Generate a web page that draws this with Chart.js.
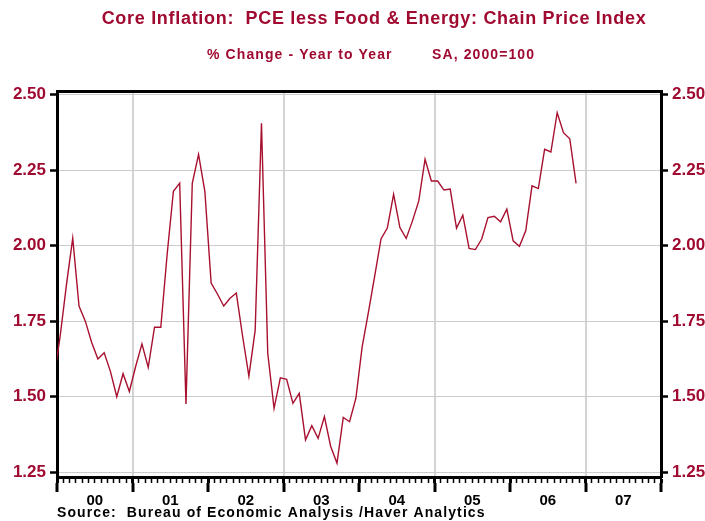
<!DOCTYPE html>
<html>
<head>
<meta charset="utf-8">
<script src="https://cdn.jsdelivr.net/npm/chart.js@4.4.1/dist/chart.umd.min.js"></script>
<style>
  body { margin: 0; background: #fff; }
</style>
</head>
<body>
<canvas id="pceChart" width="705" height="521"></canvas>
<script>
const titleText = 'Core Inflation:  PCE less Food & Energy: Chain Price Index';
const subtitleLeft = '% Change - Year to Year';
const subtitleRight = 'SA, 2000=100';
const sourceText = 'Source:  Bureau of Economic Analysis /Haver Analytics';

// monthly series, first value is Dec 1999, last is Nov 2006
const firstMonth = '1999-12';
const corePce = [
    1.56,
    1.70, 1.87, 2.025, 1.80, 1.75, 1.68, 1.625, 1.645, 1.583, 1.50, 1.576, 1.517,
    1.60, 1.675, 1.597, 1.73, 1.73, 1.97, 2.18, 2.207, 1.476, 2.206, 2.302, 2.18,
    1.876, 1.84, 1.80, 1.826, 1.843, 1.70, 1.568, 1.72, 2.405, 1.643, 1.461, 1.562,
    1.557, 1.478, 1.511, 1.357, 1.404, 1.362, 1.434, 1.335, 1.28, 1.431, 1.417, 1.494,
    1.665, 1.78, 1.90, 2.022, 2.058, 2.170, 2.06, 2.024, 2.082, 2.148, 2.286, 2.214,
    2.214, 2.184, 2.187, 2.058, 2.101, 1.991, 1.987, 2.022, 2.093, 2.097, 2.079, 2.121,
    2.016, 1.998, 2.049, 2.198, 2.189, 2.319, 2.31, 2.44, 2.374, 2.354, 2.206
];
const yTicks = [1.25, 1.50, 1.75, 2.00, 2.25, 2.50];
const yearLabels = ['00', '01', '02', '03', '04', '05', '06', '07'];
const gridYears = ['01', '03', '05', '07'];

const red = '#a00a30';
const font = '"Liberation Sans", Arial, sans-serif';

// x is counted in months from Jan 2000, points sit mid-month
let points = corePce.map((v, k) => ({ x: k - 0.5, y: v }));
let monthTicks = [];
for (let m = 0; m <= yearLabels.length * 12; m++) monthTicks.push({ value: m });
let yearTicks = [];
for (let y = 0; y <= yearLabels.length; y++) yearTicks.push({ value: y * 12 });
let gridMonths = gridYears.map(y => yearLabels.indexOf(y) * 12);

const texts = {
    id: 'texts',
    afterDraw(chart) {
        let ctx = chart.ctx;
        ctx.save();
        ctx.textBaseline = 'middle';
        ctx.fillStyle = red;
        ctx.letterSpacing = '0.7px';
        ctx.font = 'bold 18px ' + font;
        ctx.textAlign = 'center';
        ctx.fillText(titleText, 374, 19);
        ctx.letterSpacing = '1.1px';
        ctx.font = 'bold 14px ' + font;
        ctx.textAlign = 'left';
        ctx.fillText(subtitleLeft, 207, 55);
        ctx.fillText(subtitleRight, 432, 55);
        ctx.fillStyle = '#000';
        ctx.fillText(sourceText, 57, 513);
        ctx.restore();
    }
};

new Chart(document.getElementById('pceChart'), {
    type: 'line',
    data: {
        datasets: [{
            data: points,
            borderColor: '#a8102f',
            borderWidth: 1.4,
            pointRadius: 0,
            tension: 0,
        }]
    },
    options: {
        responsive: false,
        animation: false,
        layout: { padding: 0 },
        plugins: {
            legend: { display: false },
            tooltip: { enabled: false },
        },
        scales: {
            x: {
                type: 'linear',
                position: 'bottom',
                min: 0,
                max: 96,
                afterBuildTicks: s => { s.ticks = monthTicks; },
                afterFit: s => { s.height = 6; },
                ticks: { display: false, autoSkip: false },
                border: { display: true, color: '#000', width: 3 },
                grid: {
                    drawOnChartArea: false,
                    tickLength: 6,
                    tickColor: '#000',
                    tickWidth: c => c.tick && c.tick.value % 12 === 0 ? 3 : 1.5,
                }
            },
            x2: {
                type: 'linear',
                position: 'bottom',
                min: 0,
                max: 96,
                afterBuildTicks: s => { s.ticks = yearTicks; },
                afterFit: s => { s.height = 38; },
                border: { display: false },
                grid: {
                    tickLength: 9,
                    tickColor: '#000',
                    tickWidth: 3,
                    lineWidth: 2,
                    color: c => c.tick && gridMonths.includes(c.tick.value) ? '#d4d4d4' : 'rgba(0,0,0,0)',
                },
                ticks: {
                    autoSkip: false,
                    maxRotation: 0,
                    labelOffset: 37.75,
                    padding: 0,
                    color: '#000',
                    font: { family: font, size: 15, weight: 'bold' },
                    callback: v => yearLabels[v / 12] || '',
                }
            },
            top: {
                type: 'linear',
                position: 'top',
                min: 0,
                max: 96,
                afterFit: s => { s.height = 91; },
                ticks: { display: false },
                border: { display: true, color: '#000', width: 3 },
                grid: { display: false },
            },
            y: {
                position: 'left',
                min: 1.234,
                max: 2.512,
                afterBuildTicks: s => { s.ticks = yTicks.map(v => ({ value: v })); },
                afterFit: s => { s.width = 57; },
                border: { display: true, color: '#000', width: 3 },
                grid: {
                    color: '#cccccc',
                    lineWidth: 1,
                    tickLength: 7,
                    tickColor: '#000',
                    tickWidth: 2.5,
                },
                ticks: {
                    padding: 4,
                    color: red,
                    font: { family: font, size: 17, weight: 'bold' },
                    callback: v => v.toFixed(2),
                }
            },
            y1: {
                position: 'right',
                min: 1.234,
                max: 2.512,
                afterBuildTicks: s => { s.ticks = yTicks.map(v => ({ value: v })); },
                afterFit: s => { s.width = 44; },
                border: { display: true, color: '#000', width: 3 },
                grid: {
                    drawOnChartArea: false,
                    tickLength: 7,
                    tickColor: '#000',
                    tickWidth: 2.5,
                },
                ticks: {
                    padding: 4,
                    color: red,
                    font: { family: font, size: 17, weight: 'bold' },
                    callback: v => v.toFixed(2),
                }
            }
        }
    },
    plugins: [texts]
});
</script>
</body>
</html>
